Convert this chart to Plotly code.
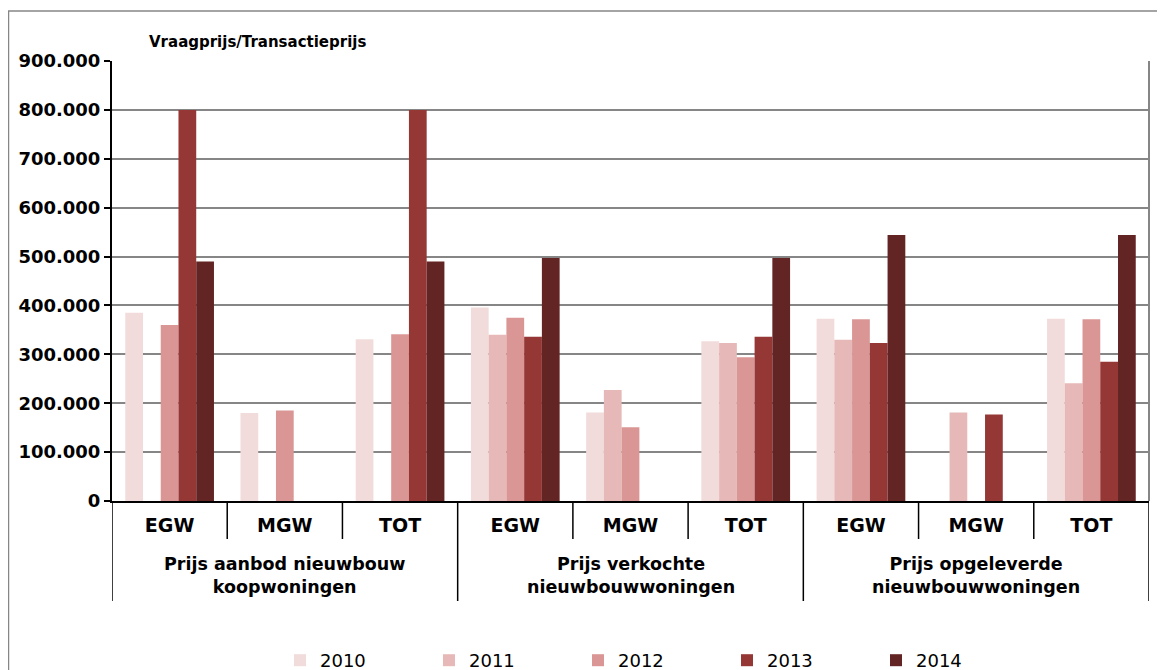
import plotly.graph_objects as go

# categorieën
groepen = ["Prijs aanbod nieuwbouw<br>koopwoningen",
           "Prijs verkochte<br>nieuwbouwwoningen",
           "Prijs opgeleverde<br>nieuwbouwwoningen"]
types = ["EGW", "MGW", "TOT"]

jaren = ["2010", "2011", "2012", "2013", "2014"]
kleuren = ["#F2DCDB", "#E6B9B8", "#D99694", "#953735", "#632523"]

# waarden per jaar (EGW, MGW, TOT per groep)
p2010 = [385000, 180000, 331000, 396000, 181000, 327000, 373000, None, 373000]
p2011 = [None, None, None, 340000, 227000, 323000, 330000, 181000, 241000]
p2012 = [360000, 185000, 341000, 375000, 151000, 294000, 372000, None, 372000]
p2013 = [800000, None, 800000, 336000, None, 336000, 323000, 177000, 285000]
p2014 = [490000, None, 490000, 497000, None, 497000, 544000, None, 544000]
reeksen = [p2010, p2011, p2012, p2013, p2014]

y_ticks = list(range(0, 900001, 100000))

# positie op de x-as per categorie
x_pos = list(range(len(groepen) * len(types)))
x_labels = types * len(groepen)

fig = go.Figure()
for jaar, kleur, waarden in zip(jaren, kleuren, reeksen):
    fig.add_trace(go.Bar(
        x=x_pos,
        y=waarden,
        name=jaar,
        marker_color=kleur,
        marker_line_width=0
    ))

font = "DejaVu Sans"
# pagina heeft 8px marge rond de figuur
W, H = 1157, 662
links, rechts, boven, onder = 104, 16, 53, 169
plot_w = W - links - rechts
plot_h = H - boven - onder
bodem = H - onder  # y van de x-as in figuurpixels


def py(pix):
    # figuurpixel (van boven) naar paper-y
    return (bodem - pix) / plot_h


def px(pix):
    return (pix - links) / plot_w


fig.update_layout(
    width=W, height=H,
    margin=dict(l=links, r=rechts, t=boven, b=onder, autoexpand=False),
    paper_bgcolor="white", plot_bgcolor="white",
    barmode="group", bargap=0.23, bargroupgap=0,
    separators=",.",
    font=dict(family=font, color="black"),
    showlegend=True,
    legend=dict(orientation="h", x=0.5 + 22 / plot_w, xanchor="center", y=py(634), yanchor="top",
                font=dict(size=18), entrywidth=104, entrywidthmode="pixels"),
)
fig.update_yaxes(
    range=[0, 900000], tickvals=y_ticks, tickformat=",d",
    tickfont=dict(size=18, family=font, weight="bold"),
    showgrid=True, gridcolor="#868686", gridwidth=2,
    showline=True, linecolor="black", linewidth=2,
    ticks="outside", ticklen=6, tickcolor="black", tickwidth=1.5,
    zeroline=False, automargin=False
)
fig.update_xaxes(
    range=[-0.5, len(x_pos) - 0.5],
    tickvals=x_pos, ticktext=x_labels,
    tickfont=dict(size=19, family=font, weight="bold"),
    showline=True, linecolor="black", linewidth=2,
    ticks="", ticklabelstandoff=6,
    showgrid=False, zeroline=False, automargin=False
)

# scheidingslijnen onder de as
for i in range(len(x_pos) + 1):
    grens = i - 0.5
    diep = 100 if i % len(types) == 0 else 38
    fig.add_shape(type="line", xref="x", yref="paper", x0=grens, x1=grens,
                  y0=0, y1=-diep / plot_h, line=dict(color="black", width=1.5))

# groepslabels
for g, naam in enumerate(groepen):
    fig.add_annotation(text="<b>" + naam + "</b>", xref="x", yref="paper",
                       x=g * len(types) + 1, y=py(567),
                       xanchor="center", yanchor="middle", showarrow=False,
                       font=dict(size=17.5, family=font), align="center")

# titel van de waarde-as
fig.add_annotation(text="<b>Vraagprijs/Transactieprijs</b>", xref="paper", yref="paper",
                   x=px(139), y=py(34), xanchor="left", yanchor="middle",
                   showarrow=False, font=dict(size=15, family=font))

# rechterrand plotgebied en kader rond de grafiek
fig.add_shape(type="line", xref="paper", yref="paper", x0=1, x1=1, y0=0, y1=1,
              line=dict(color="#868686", width=2))
fig.add_shape(type="rect", xref="paper", yref="paper",
              x0=px(0.5), x1=px(W + 20), y0=py(H + 20), y1=py(3),
              line=dict(color="#868686", width=1.5))

fig.write_html("out.html")
